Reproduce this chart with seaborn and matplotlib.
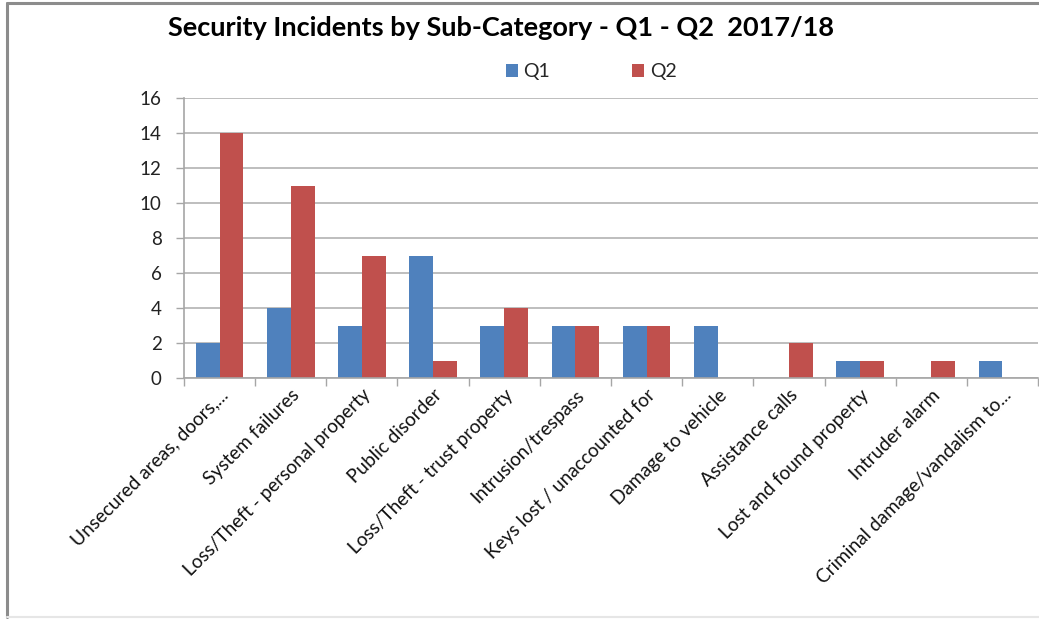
import numpy as np
import pandas as pd
import seaborn as sns
import matplotlib.pyplot as plt
from matplotlib.lines import Line2D
from matplotlib.ticker import FixedLocator

categories = [
    "Unsecured areas, doors,...",
    "System failures",
    "Loss/Theft - personal property",
    "Public disorder",
    "Loss/Theft - trust property",
    "Intrusion/trespass",
    "Keys lost / unaccounted for",
    "Damage to vehicle",
    "Assistance calls",
    "Lost and found property",
    "Intruder alarm",
    "Criminal damage/vandalism to...",
]
q1 = [2, 4, 3, 7, 3, 3, 3, 3, 0, 1, 0, 1]
q2 = [14, 11, 7, 1, 4, 3, 3, 0, 2, 1, 1, 0]
series = ["Q1", "Q2"]
colors = {"Q1": "#4F81BD", "Q2": "#C0504D"}
title = "Security Incidents by Sub-Category - Q1 - Q2  2017/18"

df = pd.DataFrame({
    "category": categories * 2,
    "quarter": ["Q1"] * len(categories) + ["Q2"] * len(categories),
    "count": q1 + q2,
})

sns.set_theme(style="white")
plt.rcParams["font.family"] = ["Lato", "DejaVu Sans"]

W, H = 1039, 619
fig = plt.figure(figsize=(W / 100, H / 100), dpi=100)
ax = fig.add_axes([184 / W, 1 - 378 / H, (1038 - 184) / W, (378 - 98) / H])

sns.barplot(data=df, x="category", y="count", hue="quarter", order=categories,
            hue_order=series, palette=colors, width=0.67, saturation=1,
            linewidth=0, ax=ax, legend=True)

ax.set_xlim(-0.5, len(categories) - 0.5)
ax.set_ylim(0, 16)
ax.set_yticks(np.arange(0, 17, 2))
ax.yaxis.grid(True, color="#b3b3b3", linewidth=1.2)
ax.set_axisbelow(True)
ax.set_xlabel("")
ax.set_ylabel("")

for side in ["top", "right"]:
    ax.spines[side].set_visible(False)
for side in ["left", "bottom"]:
    ax.spines[side].set_color("#a6a6a6")
    ax.spines[side].set_linewidth(1.2)

ax.tick_params(axis="y", which="major", left=True, length=6, width=1,
               color="#a6a6a6", labelsize=13.5, labelcolor="#222222", pad=10)
ax.tick_params(axis="x", which="major", bottom=False, length=0, pad=6)
ax.xaxis.set_minor_locator(FixedLocator(np.arange(-0.5, len(categories), 1.0)))
ax.tick_params(axis="x", which="minor", bottom=True, length=6, width=1,
               color="#a6a6a6")

ax.set_xticks(range(len(categories)))
ax.set_xticklabels(categories, rotation=45, ha="right", rotation_mode="anchor",
                   fontsize=13.7, color="#111111")

leg = ax.legend(loc="center", bbox_to_anchor=(591 / W, 1 - 72 / H),
                bbox_transform=fig.transFigure, ncol=2, frameon=False,
                fontsize=14, handlelength=0.62, handleheight=0.62,
                columnspacing=4.2, handletextpad=0.3)

fig.text(501 / W, 1 - 28 / H, title, ha="center", va="center",
         fontsize=19.5, fontweight="bold", color="#000000")

# outer chart frame: strong top/left edges, faint bottom edge
fig.add_artist(Line2D([7 / W, 1.0], [1 - 3 / H, 1 - 3 / H],
                      transform=fig.transFigure, color="#8c8c8c", linewidth=2.2))
fig.add_artist(Line2D([7 / W, 7 / W], [1 - 3 / H, 2 / H],
                      transform=fig.transFigure, color="#8c8c8c", linewidth=2.2))
fig.add_artist(Line2D([7 / W, 1.0], [2 / H, 2 / H],
                      transform=fig.transFigure, color="#e6e6e6", linewidth=1.5))

fig.savefig("out.png", dpi=100, facecolor="white")
